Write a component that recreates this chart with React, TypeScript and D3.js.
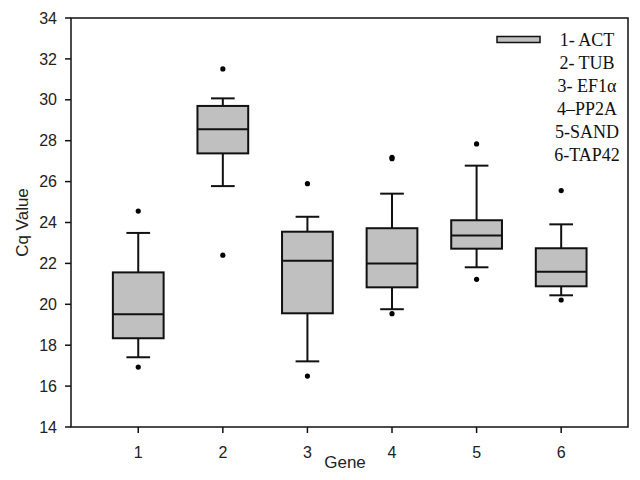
import * as d3 from "d3";
import { useEffect, useRef } from "react";

const WIDTH = 640;
const HEIGHT = 480;
const PLOT = { left: 71, right: 628, top: 18, bottom: 427 };

// Gene positions on the x axis and the legend labels.
const GENES = [1, 2, 3, 4, 5, 6];
const LEGEND_LABELS = ["1- ACT", "2- TUB", "3- EF1\u03b1", "4\u2013PP2A", "5-SAND", "6-TAP42"];

// Box statistics per gene (Cq values).
const WHISKER_LOW = [17.41, 25.78, 17.21, 19.76, 21.81, 20.44];
const Q1 = [18.34, 27.38, 19.56, 20.83, 22.72, 20.88];
const MEDIAN = [19.51, 28.56, 22.13, 21.99, 23.36, 21.59];
const Q3 = [21.56, 29.7, 23.55, 23.72, 24.11, 22.74];
const WHISKER_HIGH = [23.49, 30.07, 24.28, 25.41, 26.78, 23.91];
const OUTLIERS = [
  [16.93, 24.56],
  [22.4, 31.51],
  [16.49, 25.9],
  [19.54, 27.12, 27.19],
  [21.22, 27.84],
  [20.21, 25.56],
];

const Y_TICKS = [14, 16, 18, 20, 22, 24, 26, 28, 30, 32, 34];

const BOX_W = 0.6; // in x units
const CAP_W = 0.28;
const FILL = "#c0c0c0";
const SANS = "Arial, 'Liberation Sans', sans-serif";
const SERIF = "'Times New Roman', 'Liberation Serif', serif";

export default function App() {
  const ref = useRef<SVGSVGElement>(null);

  useEffect(() => {
    const svg = d3.select(ref.current);
    svg.selectAll("*").remove();

    const x = d3.scaleLinear().domain([0.205, 6.79]).range([PLOT.left, PLOT.right]);
    const y = d3.scaleLinear().domain([14, 34]).range([PLOT.bottom, PLOT.top]);

    // frame
    svg
      .append("rect")
      .attr("x", PLOT.left)
      .attr("y", PLOT.top)
      .attr("width", PLOT.right - PLOT.left)
      .attr("height", PLOT.bottom - PLOT.top)
      .attr("fill", "none")
      .attr("stroke", "#111")
      .attr("stroke-width", 1.5);

    // y axis ticks + labels
    const yAxis = svg.append("g");
    yAxis
      .selectAll("line")
      .data(Y_TICKS)
      .join("line")
      .attr("x1", PLOT.left - 6)
      .attr("x2", PLOT.left)
      .attr("y1", (d) => y(d))
      .attr("y2", (d) => y(d))
      .attr("stroke", "#111")
      .attr("stroke-width", 1.5);
    yAxis
      .selectAll("text")
      .data(Y_TICKS)
      .join("text")
      .attr("x", PLOT.left - 14)
      .attr("y", (d) => y(d))
      .attr("dy", "0.35em")
      .attr("text-anchor", "end")
      .attr("font-family", SANS)
      .attr("font-size", 16)
      .attr("fill", "#222")
      .text((d) => d);

    // x axis ticks + labels
    const xAxis = svg.append("g");
    xAxis
      .selectAll("line")
      .data(GENES)
      .join("line")
      .attr("x1", (d) => x(d))
      .attr("x2", (d) => x(d))
      .attr("y1", PLOT.bottom)
      .attr("y2", PLOT.bottom + 6)
      .attr("stroke", "#111")
      .attr("stroke-width", 1.5);
    xAxis
      .selectAll("text")
      .data(GENES)
      .join("text")
      .attr("x", (d) => x(d))
      .attr("y", PLOT.bottom + 25)
      .attr("dy", "0.35em")
      .attr("text-anchor", "middle")
      .attr("font-family", SANS)
      .attr("font-size", 16)
      .attr("fill", "#222")
      .text((d) => d);

    // axis titles
    svg
      .append("text")
      .attr("x", 345)
      .attr("y", 462)
      .attr("dy", "0.35em")
      .attr("text-anchor", "middle")
      .attr("font-family", SANS)
      .attr("font-size", 17)
      .attr("fill", "#222")
      .text("Gene");
    svg
      .append("text")
      .attr("transform", `translate(22, ${(PLOT.top + PLOT.bottom) / 2}) rotate(-90)`)
      .attr("dy", "0.35em")
      .attr("text-anchor", "middle")
      .attr("font-family", SANS)
      .attr("font-size", 17)
      .attr("fill", "#222")
      .text("Cq Value");

    // boxes
    const boxes = svg
      .append("g")
      .selectAll("g")
      .data(GENES)
      .join("g")
      .attr("stroke", "#111")
      .attr("stroke-width", 2);

    boxes
      .append("line")
      .attr("x1", (d) => x(d))
      .attr("x2", (d) => x(d))
      .attr("y1", (_, i) => y(WHISKER_LOW[i]))
      .attr("y2", (_, i) => y(Q1[i]));
    boxes
      .append("line")
      .attr("x1", (d) => x(d))
      .attr("x2", (d) => x(d))
      .attr("y1", (_, i) => y(Q3[i]))
      .attr("y2", (_, i) => y(WHISKER_HIGH[i]));
    for (const stat of [WHISKER_LOW, WHISKER_HIGH]) {
      boxes
        .append("line")
        .attr("x1", (d) => x(d - CAP_W / 2))
        .attr("x2", (d) => x(d + CAP_W / 2))
        .attr("y1", (_, i) => y(stat[i]))
        .attr("y2", (_, i) => y(stat[i]));
    }
    boxes
      .append("rect")
      .attr("x", (d) => x(d - BOX_W / 2))
      .attr("width", (d) => x(d + BOX_W / 2) - x(d - BOX_W / 2))
      .attr("y", (_, i) => y(Q3[i]))
      .attr("height", (_, i) => y(Q1[i]) - y(Q3[i]))
      .attr("fill", FILL);
    boxes
      .append("line")
      .attr("x1", (d) => x(d - BOX_W / 2))
      .attr("x2", (d) => x(d + BOX_W / 2))
      .attr("y1", (_, i) => y(MEDIAN[i]))
      .attr("y2", (_, i) => y(MEDIAN[i]));
    boxes
      .selectAll("circle")
      .data((d, i) => OUTLIERS[i].map((v) => ({ g: d, v })))
      .join("circle")
      .attr("cx", (p) => x(p.g))
      .attr("cy", (p) => y(p.v))
      .attr("r", 2.6)
      .attr("stroke", "none")
      .attr("fill", "#000");

    // legend
    const legend = svg.append("g");
    legend
      .append("rect")
      .attr("x", 497)
      .attr("y", 36.5)
      .attr("width", 43)
      .attr("height", 6)
      .attr("fill", FILL)
      .attr("stroke", "#111")
      .attr("stroke-width", 1.5);
    legend
      .selectAll("text")
      .data(LEGEND_LABELS)
      .join("text")
      .attr("x", 587)
      .attr("y", (_, i) => 40 + i * 23)
      .attr("dy", "0.35em")
      .attr("text-anchor", "middle")
      .attr("font-family", SERIF)
      .attr("font-size", 18)
      .attr("fill", "#111")
      .text((d) => d);
  }, []);

  return (
    <svg
      ref={ref}
      width={WIDTH}
      height={HEIGHT}
      viewBox={`0 0 ${WIDTH} ${HEIGHT}`}
      style={{ position: "fixed", left: 0, top: 0, background: "#fff" }}
    />
  );
}
